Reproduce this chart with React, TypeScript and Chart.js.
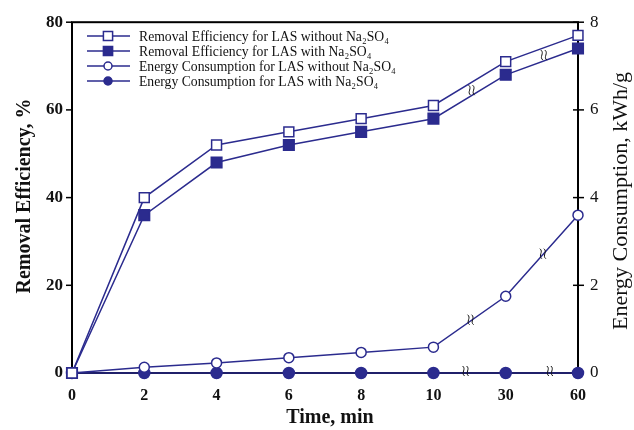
import React, { useEffect, useRef } from 'react';
import { Chart, registerables } from 'chart.js';

Chart.register(...registerables);

const timeLabels = ['0', '2', '4', '6', '8', '10', '30', '60'];
const removalWithout = [0, 40, 52, 55, 58, 61, 71, 77];
const removalWith = [0, 36, 48, 52, 55, 58, 68, 74];
const energyWithout = [0, 0.13, 0.23, 0.35, 0.47, 0.59, 1.75, 3.6];
const energyWith = [0, 0, 0, 0, 0, 0, 0, 0];

const seriesNames = [
  'Removal Efficiency for LAS without Na₂SO₄',
  'Removal Efficiency for LAS with Na₂SO₄',
  'Energy Consumption for LAS without Na₂SO₄',
  'Energy Consumption for LAS with Na₂SO₄',
];

const BLUE = '#2b2b8e';
const SERIF = '"Liberation Serif", "Times New Roman", serif';

function drawMarker(ctx: CanvasRenderingContext2D, style: string, filled: boolean, x: number, y: number, r: number) {
  ctx.save();
  ctx.beginPath();
  if (style === 'rect') {
    const s = Math.SQRT1_2 * r;
    ctx.rect(x - s, y - s, 2 * s, 2 * s);
  } else {
    ctx.arc(x, y, r, 0, Math.PI * 2);
  }
  ctx.fillStyle = filled ? BLUE : '#ffffff';
  ctx.fill();
  ctx.strokeStyle = BLUE;
  ctx.lineWidth = 1.5;
  ctx.stroke();
  ctx.restore();
}

function drawBreak(ctx: CanvasRenderingContext2D, x: number, y: number) {
  ctx.save();
  ctx.strokeStyle = '#111';
  ctx.lineWidth = 1;
  for (const dx of [-2, 2]) {
    ctx.beginPath();
    ctx.moveTo(x + dx - 1, y - 5);
    ctx.bezierCurveTo(x + dx + 3, y - 2, x + dx - 3, y + 2, x + dx + 1, y + 5);
    ctx.stroke();
  }
  ctx.restore();
}

const framePlugin = {
  id: 'frame',
  beforeDatasetsDraw(chart: any) {
    const ctx: CanvasRenderingContext2D = chart.ctx;
    const { left, right, top, bottom } = chart.chartArea;
    const yL = chart.scales.y;
    const yR = chart.scales.y2;
    ctx.save();
    ctx.strokeStyle = '#000';
    ctx.lineWidth = 2;
    ctx.strokeRect(left, top, right - left, bottom - top);
    ctx.lineWidth = 1.5;
    yL.ticks.forEach((t: any) => {
      const py = yL.getPixelForValue(t.value);
      ctx.beginPath();
      ctx.moveTo(left - 6, py);
      ctx.lineTo(left, py);
      ctx.stroke();
    });
    yR.ticks.forEach((t: any) => {
      const py = yR.getPixelForValue(t.value);
      ctx.beginPath();
      ctx.moveTo(right - 5, py);
      ctx.lineTo(right + 6, py);
      ctx.stroke();
    });
    ctx.restore();
  },
};

const decorPlugin = {
  id: 'decor',
  afterDatasetsDraw(chart: any) {
    const ctx: CanvasRenderingContext2D = chart.ctx;
    const { left, right } = chart.chartArea;
    const yL = chart.scales.y;
    const yR = chart.scales.y2;
    const x = chart.scales.x;
    ctx.save();
    const mid = (i: number, arr: number[], sc: any) => {
      const x1 = x.getPixelForValue(i);
      const x2 = x.getPixelForValue(i + 1);
      const y1 = sc.getPixelForValue(arr[i]);
      const y2 = sc.getPixelForValue(arr[i + 1]);
      return [(x1 + x2) / 2, (y1 + y2) / 2];
    };
    for (const i of [5, 6]) {
      const [ax, ay] = mid(i, removalWithout, yL);
      const [bx, by] = mid(i, removalWith, yL);
      drawBreak(ctx, (ax + bx) / 2 + 2, (ay + by) / 2);
      const [cx, cy] = mid(i, energyWithout, yR);
      drawBreak(ctx, cx + 1, cy - 2);
      const [dx, dy] = mid(i, energyWith, yR);
      drawBreak(ctx, dx - 4 + (i === 6 ? 12 : 0), dy - 2);
    }
    // legend
    const styles = [
      ['rect', false],
      ['rect', true],
      ['circle', false],
      ['circle', true],
    ] as const;
    const rows = [36, 51, 66, 81];
    ctx.font = `13.7px ${SERIF}`;
    ctx.textBaseline = 'middle';
    ctx.textAlign = 'left';
    styles.forEach((s, i) => {
      const ly = rows[i];
      ctx.strokeStyle = BLUE;
      ctx.lineWidth = 1.5;
      ctx.beginPath();
      ctx.moveTo(87, ly);
      ctx.lineTo(130, ly);
      ctx.stroke();
      drawMarker(ctx, s[0], s[1], 108, ly, s[0] === 'rect' ? 6.5 : 4);
      ctx.fillStyle = '#111';
      ctx.fillText(seriesNames[i], 139, ly + 1);
    });
    // titles
    ctx.fillStyle = '#111';
    ctx.font = `bold 20px ${SERIF}`;
    ctx.textAlign = 'center';
    ctx.textBaseline = 'middle';
    ctx.save();
    ctx.translate(25, 196);
    ctx.rotate(-Math.PI / 2);
    ctx.fillText('Removal Efficiency, %', 0, 0);
    ctx.restore();
    ctx.font = `22px ${SERIF}`;
    ctx.save();
    ctx.translate(621, 201);
    ctx.rotate(-Math.PI / 2);
    ctx.fillText('Energy Consumption, kWh/g', 0, 0);
    ctx.restore();
    ctx.font = `bold 20px ${SERIF}`;
    ctx.fillText('Time, min', (left + right) / 2 + 5, 418);
    ctx.restore();
  },
};

export default function App() {
  const ref = useRef<HTMLCanvasElement | null>(null);
  useEffect(() => {
    document.body.style.margin = '0';
    const canvas = ref.current;
    if (!canvas) return;
    const mk = (label: string, data: number[], axis: string, style: string, filled: boolean, r: number) => ({
      label,
      data,
      yAxisID: axis,
      borderColor: BLUE,
      backgroundColor: filled ? BLUE : '#ffffff',
      pointBackgroundColor: filled ? BLUE : '#ffffff',
      pointBorderColor: BLUE,
      pointBorderWidth: 1.5,
      pointStyle: style,
      pointRadius: r,
      borderWidth: 1.5,
      tension: 0,
      fill: false,
      clip: false,
    });
    const chart = new Chart(canvas, {
      type: 'line',
      data: {
        labels: timeLabels,
        datasets: [
          mk(seriesNames[0], removalWithout, 'y', 'rect', false, 7),
          mk(seriesNames[1], removalWith, 'y', 'rect', true, 7.5),
          mk(seriesNames[2], energyWithout, 'y2', 'circle', false, 5),
          mk(seriesNames[3], energyWith, 'y2', 'circle', true, 5.5),
        ] as any,
      },
      options: {
        responsive: false,
        animation: false,
        layout: { padding: { top: 21, left: 0, right: 0, bottom: 0 } },
        plugins: { legend: { display: false }, tooltip: { enabled: false } },
        scales: {
          x: {
            type: 'category',
            offset: false,
            grid: { display: false, drawTicks: false },
            border: { display: false },
            ticks: { color: '#111', font: { family: SERIF, size: 16, weight: 'bold' }, padding: 13, maxRotation: 0, autoSkip: false },
            afterFit: (s: any) => { s.height = 57; },
          },
          y: {
            position: 'left',
            min: 0,
            max: 80,
            grid: { display: false, drawTicks: false },
            border: { display: false },
            ticks: { stepSize: 20, color: '#111', font: { family: SERIF, size: 17, weight: 'bold' }, padding: 9 },
            afterFit: (s: any) => { s.width = 72; },
          },
          y2: {
            position: 'right',
            min: 0,
            max: 8,
            grid: { display: false, drawTicks: false },
            border: { display: false },
            ticks: { stepSize: 2, color: '#111', font: { family: SERIF, size: 17 }, padding: 12 },
            afterFit: (s: any) => { s.width = 56; },
          },
        },
      } as any,
      plugins: [framePlugin, decorPlugin],
    });
    return () => chart.destroy();
  }, []);
  return (
    <div style={{ width: 634, height: 430, overflow: 'hidden', background: '#fff' }}>
      <canvas ref={ref} width={634} height={430} style={{ display: 'block' }} />
    </div>
  );
}
